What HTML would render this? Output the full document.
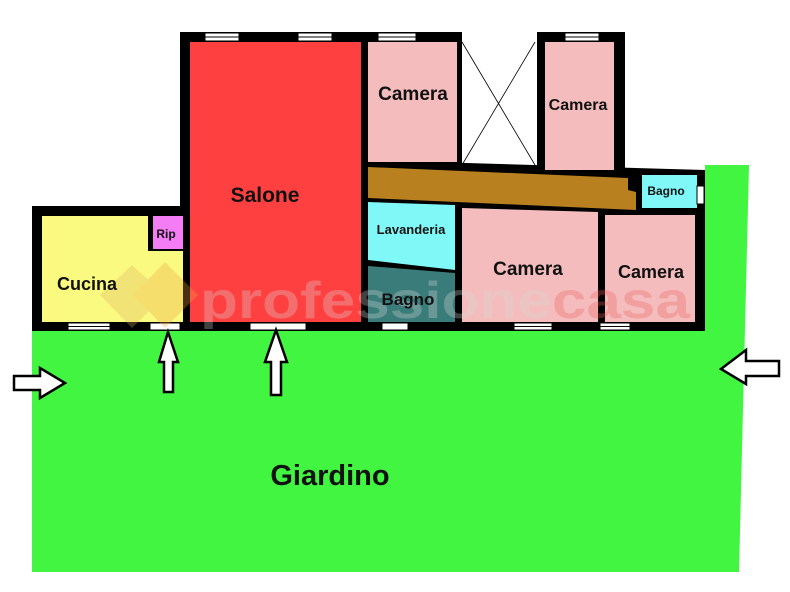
<!DOCTYPE html>
<html><head><meta charset="utf-8"><style>
html,body{margin:0;padding:0;background:#fff;width:790px;height:592px;overflow:hidden}
svg text{font-family:"Liberation Sans","DejaVu Sans",sans-serif;font-weight:bold;fill:#111}
</style></head><body>
<svg width="790" height="592" viewBox="0 0 790 592" xmlns="http://www.w3.org/2000/svg">
<rect width="790" height="592" fill="#fff"/>
<polygon points="32,325 705,325 705,165 749,165 739,572 32,572" fill="#41f541"/>
<rect x="180" y="32" width="282" height="299" fill="#000"/>
<rect x="537" y="32" width="88" height="140" fill="#000"/>
<polygon points="362,160 705,170 705,331 362,331" fill="#000"/>
<rect x="32" y="206" width="158" height="125" fill="#000"/>
<rect x="462" y="42" width="75" height="120" fill="#fff"/>
<line x1="462" y1="42" x2="535" y2="165" stroke="#000" stroke-width="0.8"/>
<line x1="535" y1="42" x2="462" y2="165" stroke="#000" stroke-width="0.8"/>
<rect x="190" y="42" width="171" height="280" fill="#ff4040"/>
<rect x="368" y="42" width="89" height="120" fill="#f4bcbc"/>
<rect x="545" y="42" width="69" height="128" fill="#f4bcbc"/>
<polygon points="368,167 628,178 628,190 636,192 636,210 368,198" fill="#b8801e"/>
<rect x="642" y="175" width="55" height="33" fill="#80f8f8"/>
<polygon points="368,202 455,205 455,270 368,260" fill="#80f8f8"/>
<polygon points="368,266 455,273 455,322 368,322" fill="#3a7c7a"/>
<polygon points="462,208 598,212 598,322 462,322" fill="#f4bcbc"/>
<rect x="605" y="215" width="90" height="107" fill="#f4bcbc"/>
<rect x="42" y="216" width="141" height="106" fill="#fafa80"/>
<rect x="148" y="216" width="35" height="35" fill="#000"/>
<rect x="153" y="216" width="30" height="33" fill="#f47cf4"/>
<g fill="#fff" stroke="#000" stroke-width="1">
<rect x="205" y="33" width="34" height="8"/><rect x="298" y="33" width="34" height="8"/><rect x="378" y="33" width="38" height="8"/>
<rect x="565" y="33" width="34" height="8"/>
<rect x="68" y="323" width="42" height="7"/><rect x="150" y="323" width="30" height="7"/><rect x="250" y="323" width="56" height="7"/>
<rect x="382" y="323" width="26" height="7"/><rect x="514" y="323" width="38" height="7"/><rect x="600" y="323" width="30" height="7"/>
<rect x="697" y="186" width="7" height="18"/>
</g>
<g stroke="#000" stroke-width="1">
<line x1="205" y1="37" x2="239" y2="37"/><line x1="298" y1="37" x2="332" y2="37"/><line x1="378" y1="37" x2="416" y2="37"/><line x1="565" y1="37" x2="599" y2="37"/>
<line x1="68" y1="326.5" x2="110" y2="326.5"/><line x1="514" y1="326.5" x2="552" y2="326.5"/><line x1="600" y1="326.5" x2="630" y2="326.5"/>
</g>
<g opacity="0.3">
<polygon points="132,265 165,295 132,328 100,295" fill="#e0b060"/>
<polygon points="165,262 198,295 165,328 133,295" fill="#f0a040"/>
<text x="200" y="318" font-size="52" textLength="490" lengthAdjust="spacingAndGlyphs"><tspan style="fill:#d8d8d8">professione</tspan><tspan style="fill:#f06060">casa</tspan></text>
</g>
<text x="265" y="202" font-size="21" text-anchor="middle">Salone</text>
<text x="413" y="100" font-size="19" text-anchor="middle">Camera</text>
<text x="578" y="110" font-size="16" text-anchor="middle">Camera</text>
<text x="666" y="195" font-size="12" text-anchor="middle">Bagno</text>
<text x="411" y="234" font-size="13" text-anchor="middle">Lavanderia</text>
<text x="408" y="305" font-size="17" text-anchor="middle">Bagno</text>
<text x="528" y="275" font-size="19" text-anchor="middle">Camera</text>
<text x="651" y="278" font-size="18" text-anchor="middle">Camera</text>
<text x="87" y="290" font-size="18" text-anchor="middle">Cucina</text>
<text x="166" y="238" font-size="12" text-anchor="middle">Rip</text>
<text x="330" y="485" font-size="29" text-anchor="middle">Giardino</text>
<g fill="#fff" stroke="#000" stroke-width="2.5">
<polygon points="168,332 178,362 173,362 173,392 164,392 164,362 159,362"/>
<polygon points="276,330 287,362 281,362 281,395 271,395 271,362 265,362"/>
<polygon points="14,376 40,376 40,368 65,383 40,398 40,390 14,390"/>
<polygon points="779,361 746,361 746,350 721,369 746,384 746,376 779,376"/>
</g>
</svg>
</body></html>
